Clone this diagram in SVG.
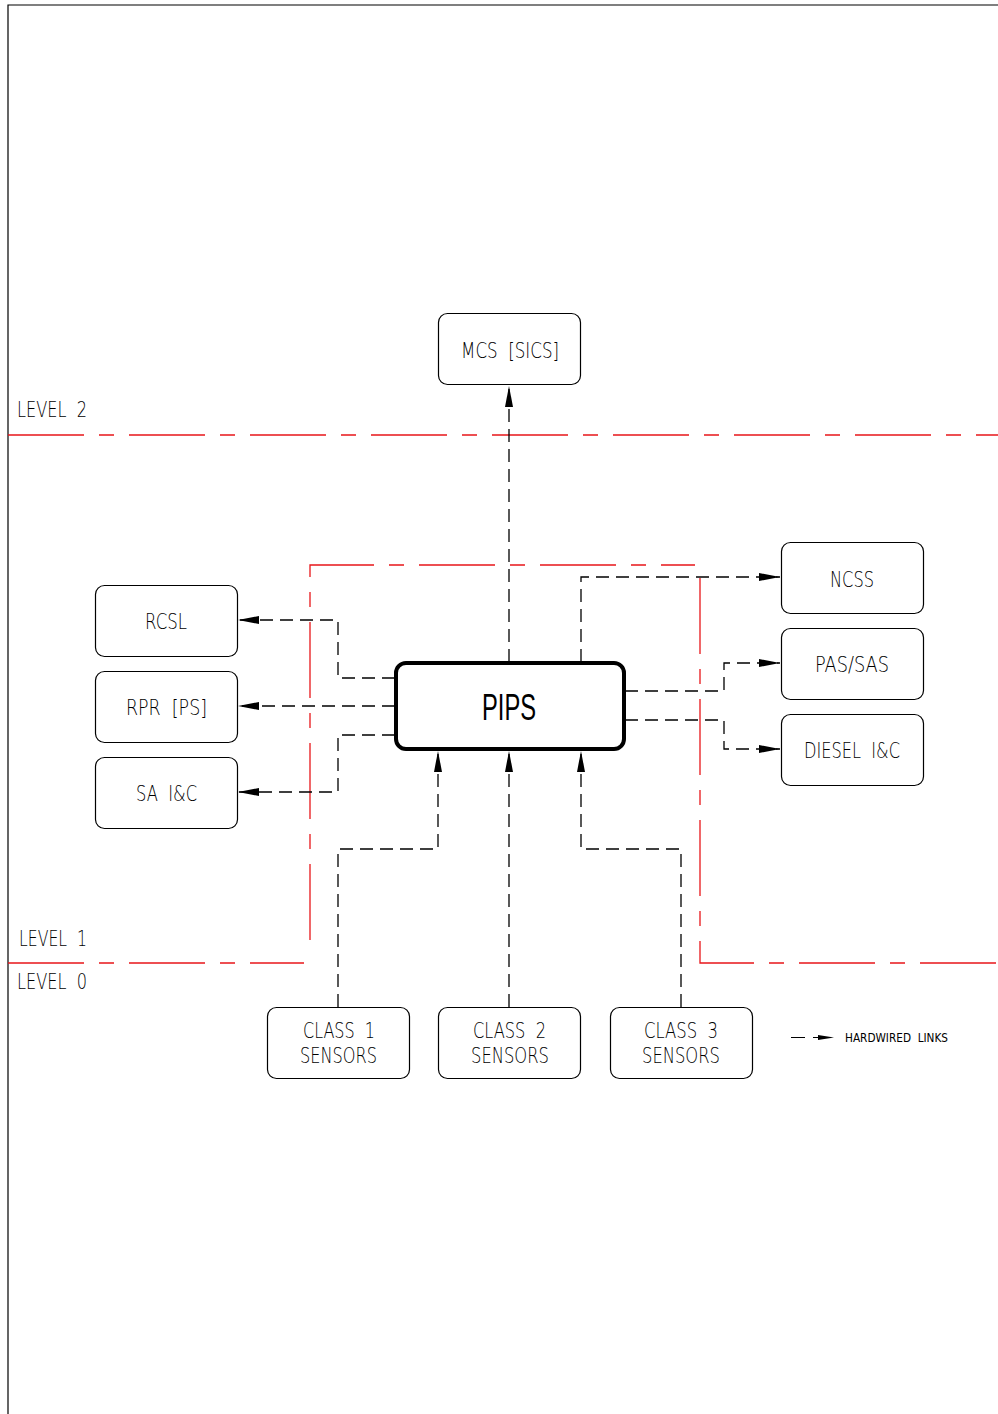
<svg xmlns="http://www.w3.org/2000/svg" width="998" height="1414" viewBox="0 0 998 1414">
<style>
.box{fill:#fff;stroke:#000;stroke-width:1.2}
.main{fill:#fff;stroke:#000;stroke-width:4}
.t{font-family:"DejaVu Sans","Liberation Sans",sans-serif;font-size:22px;fill:#000;font-weight:300;white-space:pre}
.lvl{fill:none;stroke:#e8161a;stroke-width:1.3;stroke-dasharray:76 15 15 15}
.con{fill:none;stroke:#000;stroke-width:1.3;stroke-dasharray:13 7}
</style>
<defs>
<marker id="ah" markerUnits="userSpaceOnUse" markerWidth="22" markerHeight="10" refX="21" refY="4" orient="auto">
<path d="M0,0 L21,4 L0,8 z" fill="#000" stroke="none"/>
</marker>
</defs>
<rect width="998" height="1414" fill="#fff"/>
<g id="frame">
<path d="M8,1414 L8,5 L998,5" fill="none" stroke="#000" stroke-width="1.2"/>
</g>
<g id="levels">
<path class="lvl" d="M8,435 L998,435"/>
<path class="lvl" d="M310,940 L310,565 L695,565"/>
<path class="lvl" d="M700,578 L700,963 L998,963"/>
<path class="lvl" d="M8,963 L304,963"/>
<text class="t" xml:space="preserve" x="17" y="417" textLength="70" lengthAdjust="spacingAndGlyphs">LEVEL  2</text>
<text class="t" xml:space="preserve" x="19" y="946" textLength="68" lengthAdjust="spacingAndGlyphs">LEVEL  1</text>
<text class="t" xml:space="preserve" x="17" y="989" textLength="70" lengthAdjust="spacingAndGlyphs">LEVEL  0</text>
</g>
<g id="connectors">
<path class="con" d="M509,662 L509,386" marker-end="url(#ah)"/>
<path class="con" d="M395,678 L338,678 L338,620 L238,620" marker-end="url(#ah)"/>
<path class="con" d="M395,706 L238,706" marker-end="url(#ah)"/>
<path class="con" d="M395,735 L338,735 L338,792 L238,792" marker-end="url(#ah)"/>
<path class="con" d="M581,662 L581,577 L780,577" marker-end="url(#ah)"/>
<path class="con" d="M625,691 L724,691 L724,663 L780,663" marker-end="url(#ah)"/>
<path class="con" d="M625,720 L724,720 L724,749 L780,749" marker-end="url(#ah)"/>
<path class="con" d="M338,1007 L338,849 L438,849 L438,751" marker-end="url(#ah)"/>
<path class="con" d="M509,1007 L509,751" marker-end="url(#ah)"/>
<path class="con" d="M681,1007 L681,849 L581,849 L581,751" marker-end="url(#ah)"/>
</g>
<g id="mcs">
<rect class="box" x="438.5" y="313.5" width="142" height="71" rx="9"/>
<text class="t" xml:space="preserve" x="461" y="358" textLength="98" lengthAdjust="spacingAndGlyphs">MCS  [SICS]</text>
</g>
<g id="pips">
<rect class="main" x="396" y="663" width="228" height="86" rx="10"/>
<text x="509" y="720" text-anchor="middle" font-family="'Liberation Sans',Arial,sans-serif" font-size="36" textLength="54" lengthAdjust="spacingAndGlyphs">PIPS</text>
</g>
<g id="rcsl">
<rect class="box" x="95.5" y="585.5" width="142" height="71" rx="9"/>
<text class="t" x="145" y="629" textLength="42" lengthAdjust="spacingAndGlyphs">RCSL</text>
</g>
<g id="rpr">
<rect class="box" x="95.5" y="671.5" width="142" height="71" rx="9"/>
<text class="t" xml:space="preserve" x="126" y="715" textLength="81" lengthAdjust="spacingAndGlyphs">RPR  [PS]</text>
</g>
<g id="sa">
<rect class="box" x="95.5" y="757.5" width="142" height="71" rx="9"/>
<text class="t" xml:space="preserve" x="136" y="801" textLength="61" lengthAdjust="spacingAndGlyphs">SA  I&amp;C</text>
</g>
<g id="ncss">
<rect class="box" x="781.5" y="542.5" width="142" height="71" rx="9"/>
<text class="t" x="830" y="587" textLength="44" lengthAdjust="spacingAndGlyphs">NCSS</text>
</g>
<g id="pas">
<rect class="box" x="781.5" y="628.5" width="142" height="71" rx="9"/>
<text class="t" x="815" y="672" textLength="74" lengthAdjust="spacingAndGlyphs">PAS/SAS</text>
</g>
<g id="diesel">
<rect class="box" x="781.5" y="714.5" width="142" height="71" rx="9"/>
<text class="t" xml:space="preserve" x="804" y="758" textLength="96" lengthAdjust="spacingAndGlyphs">DIESEL  I&amp;C</text>
</g>
<g id="class1">
<rect class="box" x="267.5" y="1007.5" width="142" height="71" rx="9"/>
<text class="t" xml:space="preserve" x="303" y="1038" textLength="72" lengthAdjust="spacingAndGlyphs">CLASS  1</text>
<text class="t" x="300" y="1063" textLength="77" lengthAdjust="spacingAndGlyphs">SENSORS</text>
</g>
<g id="class2">
<rect class="box" x="438.5" y="1007.5" width="142" height="71" rx="9"/>
<text class="t" xml:space="preserve" x="473" y="1038" textLength="73" lengthAdjust="spacingAndGlyphs">CLASS  2</text>
<text class="t" x="471" y="1063" textLength="78" lengthAdjust="spacingAndGlyphs">SENSORS</text>
</g>
<g id="class3">
<rect class="box" x="610.5" y="1007.5" width="142" height="71" rx="9"/>
<text class="t" xml:space="preserve" x="644" y="1038" textLength="74" lengthAdjust="spacingAndGlyphs">CLASS  3</text>
<text class="t" x="642" y="1063" textLength="78" lengthAdjust="spacingAndGlyphs">SENSORS</text>
</g>
<g id="legend">
<path d="M791,1037.5 L805,1037.5 M813,1037.5 L822,1037.5" stroke="#000" stroke-width="1.1" fill="none"/>
<path d="M818,1035 L834,1037.5 L818,1040 z" fill="#000"/>
<text xml:space="preserve" x="845" y="1042" font-family="'DejaVu Sans','Liberation Sans',sans-serif" font-size="13" style="white-space:pre" textLength="103" lengthAdjust="spacingAndGlyphs">HARDWIRED  LINKS</text>
</g>
</svg>
